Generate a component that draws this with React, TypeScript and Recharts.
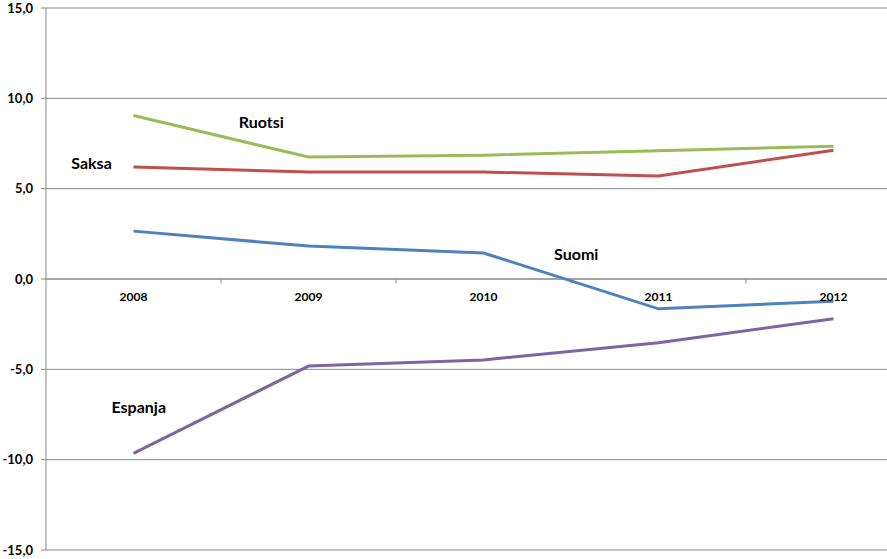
import { LineChart, Line, XAxis, YAxis, CartesianGrid, ReferenceLine, ReferenceDot } from "recharts";

const years = [2008, 2009, 2010, 2011, 2012];
const ruotsi = [9.05, 6.75, 6.85, 7.1, 7.35];
const saksa = [6.2, 5.92, 5.92, 5.7, 7.13];
const suomi = [2.65, 1.82, 1.44, -1.65, -1.23];
const espanja = [-9.65, -4.82, -4.48, -3.53, -2.2];
const yTicks = [-15, -10, -5, 0, 5, 10, 15];

const data = years.map((year, i) => ({
  year,
  ruotsi: ruotsi[i],
  saksa: saksa[i],
  suomi: suomi[i],
  espanja: espanja[i],
}));

const seriesLabels = [
  { name: "Ruotsi", x: 2008.73, y: 8.7 },
  { name: "Saksa", x: 2007.76, y: 6.42 },
  { name: "Suomi", x: 2010.53, y: 1.38 },
  { name: "Espanja", x: 2008.03, y: -7.08 },
];

const boundaries = [2008.5, 2009.5, 2010.5, 2011.5];

const FONT = "Lato, 'Open Sans', sans-serif";
const GRID = "#868686";

const fmt = (v: number) => v.toFixed(1).replace(".", ",");

export default function App() {
  return (
    <div style={{ position: "absolute", left: 0, top: 0, width: 887, height: 559, overflow: "hidden", background: "#fff" }}>
      <LineChart width={925} height={559} data={data} margin={{ top: 8, right: 4, bottom: 9, left: 0 }}>
        <CartesianGrid vertical={false} stroke={GRID} strokeWidth={1} />
        <XAxis dataKey="year" type="number" domain={[2007.5, 2012.5]} hide />
        <YAxis
          domain={[-15, 15]}
          ticks={yTicks}
          width={46}
          tickSize={5}
          tickMargin={8}
          tickFormatter={fmt}
          stroke={GRID}
          tick={{ fill: "#000", fontFamily: FONT, fontWeight: 700, fontSize: 13 }}
          interval={0}
          allowDataOverflow
        />
        <ReferenceLine y={0} stroke={GRID} strokeWidth={1} />
        {boundaries.map((b) => (
          <ReferenceLine
            key={b}
            segment={[{ x: b, y: 0 }, { x: b, y: -0.25 }]}
            stroke={GRID}
            strokeWidth={1}
          />
        ))}
        {years.map((y) => (
          <ReferenceDot
            key={y}
            x={y}
            y={0}
            r={0}
            stroke="none"
            fill="none"
            label={{ value: String(y), position: "bottom", offset: 13, fill: "#000", fontFamily: FONT, fontWeight: 700, fontSize: 12 }}
          />
        ))}
        <Line dataKey="ruotsi" stroke="#9BBB59" strokeWidth={3} dot={false} isAnimationActive={false} />
        <Line dataKey="saksa" stroke="#C0504D" strokeWidth={3} dot={false} isAnimationActive={false} />
        <Line dataKey="suomi" stroke="#4F81BD" strokeWidth={3} dot={false} isAnimationActive={false} />
        <Line dataKey="espanja" stroke="#8064A2" strokeWidth={3} dot={false} isAnimationActive={false} />
        {seriesLabels.map((s) => (
          <ReferenceDot
            key={s.name}
            x={s.x}
            y={s.y}
            r={0}
            stroke="none"
            fill="none"
            label={{ value: s.name, position: "center", fill: "#000", fontFamily: FONT, fontWeight: 700, fontSize: 16 }}
          />
        ))}
      </LineChart>
    </div>
  );
}
